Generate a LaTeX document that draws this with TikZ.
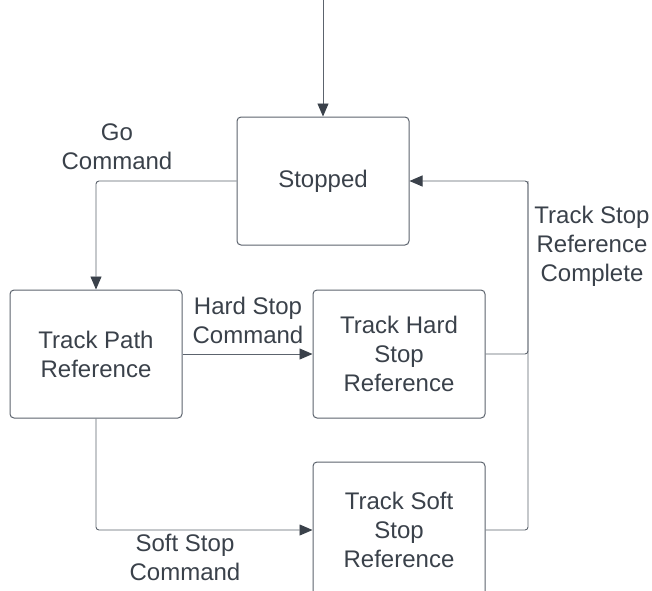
\documentclass[tikz,border=0pt]{standalone}
\usepackage{fontspec}
\setmainfont{Liberation Sans}
\usetikzlibrary{arrows.meta}
\definecolor{ink}{HTML}{3A414A}
\definecolor{wire}{HTML}{5C636D}
\tikzset{
  state/.style={draw=wire, line width=1pt, rounded corners=4pt, minimum width=172pt,
      minimum height=128pt, align=center, text=ink, font=\fontsize{24}{29}\selectfont},
  conn/.style={draw=wire, line width=0.9pt, rounded corners=3pt},
  arr/.style={conn, -{Triangle[length=13pt, width=11pt, color=ink]}},
  lbl/.style={align=center, text=ink, font=\fontsize{24}{29}\selectfont},
}
\begin{document}
\begin{tikzpicture}[x=1pt, y=-1pt]
  \useasboundingbox (0,0) rectangle (652,590);
  % states
  \node[state] (stopped) at (323,181) {Stopped};
  \node[state] (path) at (96,354) {Track Path\\Reference};
  \node[state] (hard) at (399,354) {Track Hard\\Stop\\Reference};
  \node[state, minimum height=136pt] (soft) at (399,530) {Track Soft\\Stop\\Reference};
  \coordinate (entry) at (323,0);
  \coordinate (bus) at (528,181);
  % transitions
  \draw[arr] (entry) -- (stopped);
  \draw[arr] (stopped.west) -| (path.north);
  \draw[arr] (path.east) -- (hard.west);
  \draw[arr] (path.south) |- (soft.west);
  \draw[conn] (soft.east) -| (bus);
  \draw[arr] (hard.east) -| (bus) -- (stopped.east);
  % labels
  \node[lbl] (golbl) at (117,147) {Go\\Command};
  \node[lbl] (hardlbl) at (248,320) {Hard Stop\\Command};
  \node[lbl] (softlbl) at (185,557) {Soft Stop\\Command};
  \node[lbl] (donelbl) at (592,246) {Track Stop\\Reference\\Complete};
\end{tikzpicture}
\end{document}
